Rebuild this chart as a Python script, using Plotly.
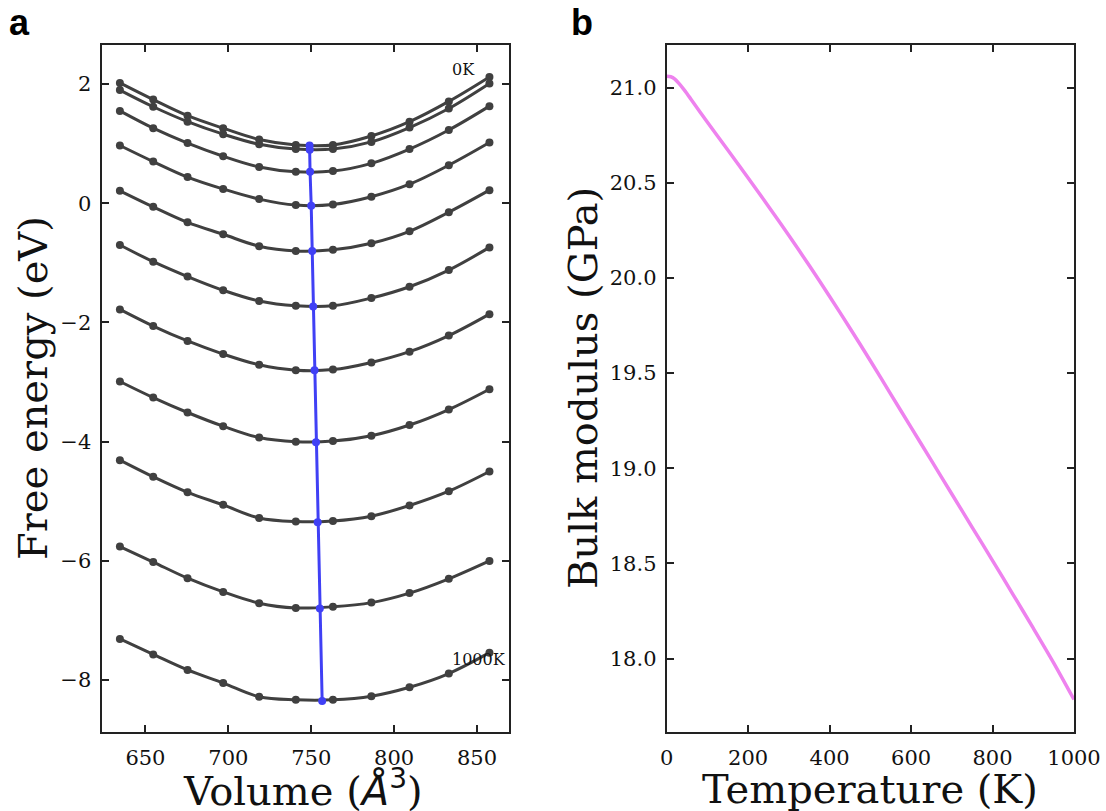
import plotly.graph_objects as go

# ---------------- data ----------------
volumes = [634.6, 654.7, 675.4, 696.9, 718.6, 740.7, 763.1, 786.3, 809.3, 833.0, 857.5]

F_0K    = [2.02, 1.74, 1.47, 1.26, 1.07, 0.98, 0.98, 1.13, 1.37, 1.71, 2.12]
F_100K  = [1.90, 1.62, 1.37, 1.16, 0.99, 0.91, 0.91, 1.03, 1.27, 1.59, 2.01]
F_200K  = [1.55, 1.26, 1.01, 0.79, 0.61, 0.53, 0.54, 0.67, 0.91, 1.23, 1.63]
F_300K  = [0.97, 0.70, 0.44, 0.24, 0.07, -0.03, -0.02, 0.11, 0.32, 0.64, 1.02]
F_400K  = [0.21, -0.06, -0.32, -0.52, -0.72, -0.80, -0.78, -0.67, -0.47, -0.15, 0.22]
F_500K  = [-0.70, -0.98, -1.23, -1.46, -1.64, -1.72, -1.72, -1.59, -1.40, -1.12, -0.74]
F_600K  = [-1.78, -2.06, -2.31, -2.53, -2.71, -2.80, -2.79, -2.67, -2.49, -2.22, -1.86]
F_700K  = [-2.99, -3.26, -3.51, -3.74, -3.93, -4.00, -3.99, -3.90, -3.72, -3.46, -3.12]
F_800K  = [-4.31, -4.59, -4.85, -5.06, -5.28, -5.34, -5.33, -5.25, -5.07, -4.83, -4.50]
F_900K  = [-5.76, -6.02, -6.29, -6.52, -6.71, -6.79, -6.77, -6.70, -6.54, -6.30, -6.00]
F_1000K = [-7.31, -7.57, -7.83, -8.05, -8.28, -8.33, -8.33, -8.27, -8.12, -7.89, -7.54]

v_min = [749.0, 749.1, 749.3, 750.0, 750.6, 751.2, 752.0, 752.9, 753.9, 755.2, 756.6]
f_min = [0.97, 0.90, 0.53, -0.04, -0.80, -1.73, -2.80, -4.01, -5.35, -6.80, -8.35]

temperature = [0, 10, 20, 30, 40, 50, 60, 100, 150, 200, 250, 300, 350, 400, 450,
               500, 550, 600, 650, 700, 750, 800, 850, 900, 950, 1000]
bulk_modulus = [21.06, 21.057, 21.045, 21.022, 20.996, 20.968, 20.938, 20.818, 20.672,
                20.525, 20.376, 20.223, 20.065, 19.903, 19.736, 19.565, 19.390,
                19.215, 19.040, 18.865, 18.690, 18.515, 18.338, 18.160, 17.978, 17.785]

label_top = "0K"
label_bottom = "1000K"

curves = [F_0K, F_100K, F_200K, F_300K, F_400K, F_500K, F_600K, F_700K,
          F_800K, F_900K, F_1000K]

# ---------------- styling ----------------
W, H = 1106, 811
GRAY = "#404040"
BLUE = "#4040f5"
PINK = "#ee82ee"
SERIF = "DejaVu Serif"
TICKFONT = dict(family=SERIF, size=21, color="#111")
TITLEFONT = dict(family=SERIF, size=40, color="#111")

def px_x(p):
    return p / W

def px_y(p):
    return 1 - p / H

fig = go.Figure()

for F in curves:
    fig.add_trace(go.Scatter(
        x=volumes, y=F, mode="lines+markers",
        line=dict(color=GRAY, width=3, shape="spline", smoothing=1.0),
        marker=dict(color=GRAY, size=8),
        xaxis="x", yaxis="y", showlegend=False, hoverinfo="skip"))

fig.add_trace(go.Scatter(
    x=v_min, y=f_min, mode="lines+markers",
    line=dict(color=BLUE, width=3),
    marker=dict(color=BLUE, size=8),
    xaxis="x", yaxis="y", showlegend=False))

fig.add_trace(go.Scatter(
    x=temperature, y=bulk_modulus, mode="lines",
    line=dict(color=PINK, width=3.5, shape="spline", smoothing=0.8),
    xaxis="x2", yaxis="y2", showlegend=False))

axis_common = dict(
    showline=True, linewidth=2, linecolor="#222", mirror="ticks",
    ticks="inside", ticklen=7, tickwidth=1.6, tickcolor="#222",
    showgrid=False, zeroline=False, tickfont=TICKFONT, automargin=False,
)

fig.update_layout(
    template="none",
    width=W, height=H,
    margin=dict(l=0, r=0, t=0, b=0, pad=0, autoexpand=False),
    paper_bgcolor="white", plot_bgcolor="white",
    font=dict(family=SERIF),
    xaxis=dict(domain=[px_x(101.5), px_x(509)], range=[623.5, 869.3],
               tickvals=[650, 700, 750, 800, 850], anchor="y",
               ticklabelstandoff=6, **axis_common),
    yaxis=dict(domain=[px_y(731.7), px_y(45)], range=[-8.866, 2.656],
               tickvals=[-8, -6, -4, -2, 0, 2], anchor="x",
               ticklabelstandoff=4, **axis_common),
    xaxis2=dict(domain=[px_x(666.7), px_x(1074)], range=[0, 1000],
                tickvals=[0, 200, 400, 600, 800, 1000], anchor="y2",
                ticklabelstandoff=6, **axis_common),
    yaxis2=dict(domain=[px_y(731.7), px_y(45)], range=[17.616, 21.224],
                tickvals=[18.0, 18.5, 19.0, 19.5, 20.0, 20.5, 21.0],
                tickformat=".1f", anchor="x2",
                ticklabelstandoff=4, **axis_common),
)

annotations = [
    dict(text=label_top, x=834, y=2.25, xref="x", yref="y",
         xanchor="left", yanchor="middle", showarrow=False,
         font=dict(family=SERIF, size=16, color="#111")),
    dict(text=label_bottom, x=834, y=-7.66, xref="x", yref="y",
         xanchor="left", yanchor="middle", showarrow=False,
         font=dict(family=SERIF, size=16, color="#111")),
    dict(text="<b>a</b>", x=px_x(19), y=px_y(22), xref="paper", yref="paper",
         xanchor="center", yanchor="middle", showarrow=False,
         font=dict(family="Liberation Sans, Arial", size=36, color="black")),
    dict(text="<b>b</b>", x=px_x(582), y=px_y(22), xref="paper", yref="paper",
         xanchor="center", yanchor="middle", showarrow=False,
         font=dict(family="Liberation Sans, Arial", size=36, color="black")),
    dict(text="Free energy (eV)", x=px_x(33), y=px_y(388), xref="paper", yref="paper",
         xanchor="center", yanchor="middle", textangle=-90, showarrow=False,
         font=TITLEFONT),
    dict(text="Bulk modulus (GPa)", x=px_x(583), y=px_y(388), xref="paper", yref="paper",
         xanchor="center", yanchor="middle", textangle=-90, showarrow=False,
         font=TITLEFONT),
    dict(text="Volume (<span style='font-family:DejaVu Sans'><i>Å</i><sup>3</sup></span>)",
         x=px_x(303), y=px_y(788), xref="paper", yref="paper",
         xanchor="center", yanchor="middle", showarrow=False, font=TITLEFONT),
    dict(text="Temperature (K)", x=px_x(870), y=px_y(789), xref="paper", yref="paper",
         xanchor="center", yanchor="middle", showarrow=False, font=TITLEFONT),
]
fig.update_layout(annotations=annotations)

fig.write_html("out.html")
